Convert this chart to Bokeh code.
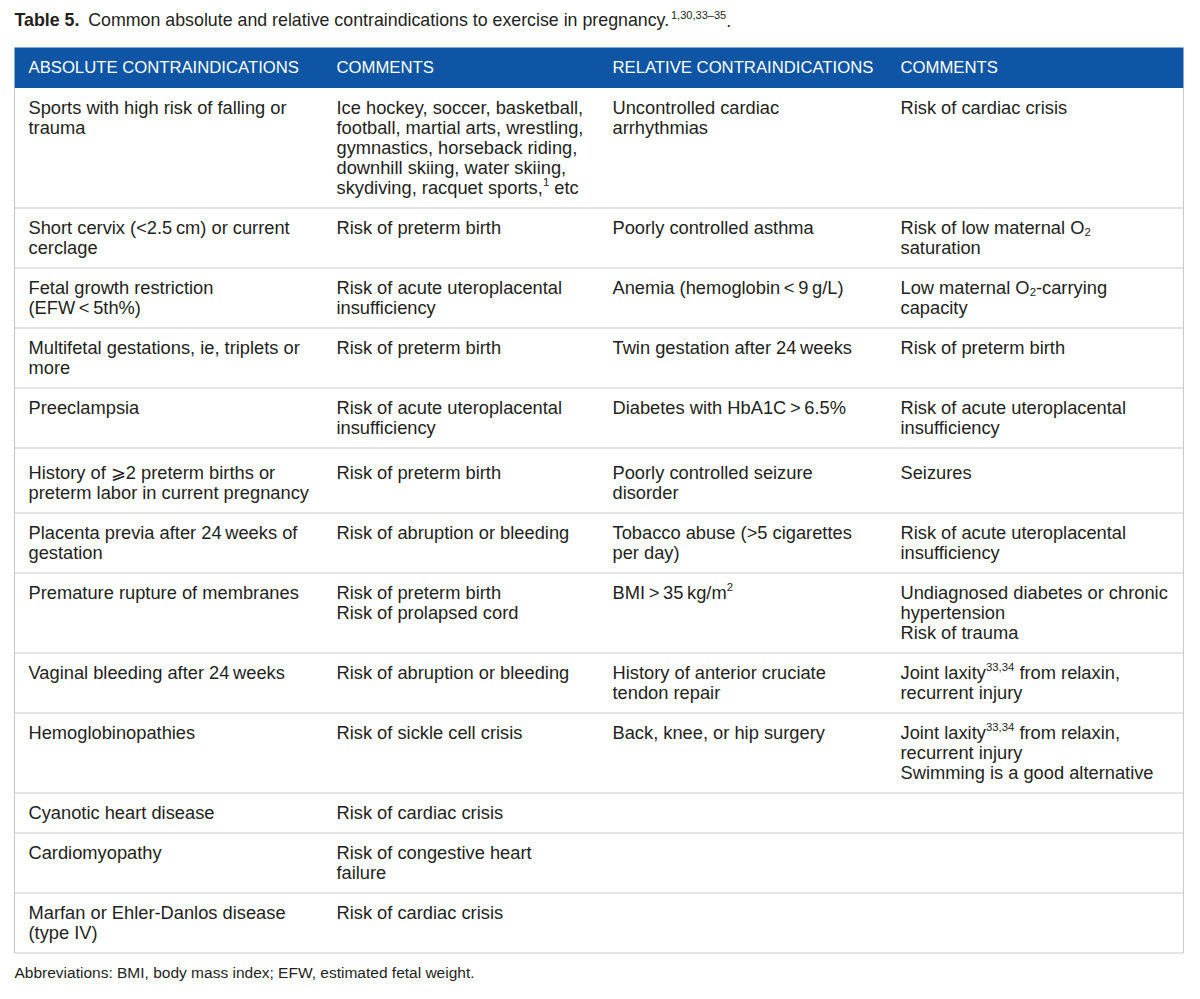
import re
from bokeh.plotting import figure
from bokeh.models import Range1d, ColumnDataSource
from bokeh.embed import file_html
from bokeh.resources import INLINE
from bokeh.core.properties import value

# ------------------------------------------------------------------ data
# "^...^" marks superscript, "_..._" marks subscript, "\n" a line break
title_label = "Table 5."
title_text = "Common absolute and relative contraindications to exercise in pregnancy.^1,30,33\u201335^."

headers = ["ABSOLUTE CONTRAINDICATIONS", "COMMENTS",
           "RELATIVE CONTRAINDICATIONS", "COMMENTS"]

absolute = [
    "Sports with high risk of falling or\ntrauma",
    "Short cervix (<2.5\u2009cm) or current\ncerclage",
    "Fetal growth restriction\n(EFW\u2009<\u20095th%)",
    "Multifetal gestations, ie, triplets or\nmore",
    "Preeclampsia",
    "History of \u2a7e2 preterm births or\npreterm labor in current pregnancy",
    "Placenta previa after 24\u2009weeks of\ngestation",
    "Premature rupture of membranes",
    "Vaginal bleeding after 24\u2009weeks",
    "Hemoglobinopathies",
    "Cyanotic heart disease",
    "Cardiomyopathy",
    "Marfan or Ehler-Danlos disease\n(type IV)",
]

absolute_comments = [
    "Ice hockey, soccer, basketball,\nfootball, martial arts, wrestling,\ngymnastics, horseback riding,\ndownhill skiing, water skiing,\nskydiving, racquet sports,^1^ etc",
    "Risk of preterm birth",
    "Risk of acute uteroplacental\ninsufficiency",
    "Risk of preterm birth",
    "Risk of acute uteroplacental\ninsufficiency",
    "Risk of preterm birth",
    "Risk of abruption or bleeding",
    "Risk of preterm birth\nRisk of prolapsed cord",
    "Risk of abruption or bleeding",
    "Risk of sickle cell crisis",
    "Risk of cardiac crisis",
    "Risk of congestive heart\nfailure",
    "Risk of cardiac crisis",
]

relative = [
    "Uncontrolled cardiac\narrhythmias",
    "Poorly controlled asthma",
    "Anemia (hemoglobin\u2009<\u20099\u2009g/L)",
    "Twin gestation after 24\u2009weeks",
    "Diabetes with HbA1C\u2009>\u20096.5%",
    "Poorly controlled seizure\ndisorder",
    "Tobacco abuse (>5 cigarettes\nper day)",
    "BMI\u2009>\u200935\u2009kg/m^2^",
    "History of anterior cruciate\ntendon repair",
    "Back, knee, or hip surgery",
    "",
    "",
    "",
]

relative_comments = [
    "Risk of cardiac crisis",
    "Risk of low maternal O_2_\nsaturation",
    "Low maternal O_2_-carrying\ncapacity",
    "Risk of preterm birth",
    "Risk of acute uteroplacental\ninsufficiency",
    "Seizures",
    "Risk of acute uteroplacental\ninsufficiency",
    "Undiagnosed diabetes or chronic\nhypertension\nRisk of trauma",
    "Joint laxity^33,34^ from relaxin,\nrecurrent injury",
    "Joint laxity^33,34^ from relaxin,\nrecurrent injury\nSwimming is a good alternative",
    "",
    "",
    "",
]

footnote = "Abbreviations: BMI, body mass index; EFW, estimated fetal weight."

columns = [absolute, absolute_comments, relative, relative_comments]

# ------------------------------------------------------------------ style
W, H = 1184, 983
FONT = "Liberation Sans"
TEXT = "#231f20"
BLUE = "#0e56a5"
RULE = "#cbcbcb"
FS_BODY, FS_HEAD, FS_TITLE, FS_NOTE = 18.3, 16.7, 17.8, 15.5
SCRIPT = 0.62
TY = -5.5          # baseline correction for rendered text

TABLE_L, TABLE_R = 14, 1183
HEAD_TOP, HEAD_BOT = 47, 87.5
COL_X = [28, 336, 612, 900]
LINE = 20

# Helvetica / Arial (= Liberation Sans) advance widths, 1/1000 em
_adv = {}
for ch, w in zip("ABCDEFGHIJKLMNOPQRSTUVWXYZ",
                 [667, 667, 722, 722, 667, 611, 778, 722, 278, 500, 667, 556, 833,
                  722, 778, 667, 778, 722, 667, 611, 722, 667, 944, 667, 667, 611]):
    _adv[ch] = w
for ch, w in zip("abcdefghijklmnopqrstuvwxyz",
                 [556, 556, 500, 556, 556, 278, 556, 556, 222, 222, 500, 222, 833,
                  556, 556, 556, 556, 333, 500, 278, 556, 500, 722, 500, 500, 500]):
    _adv[ch] = w
for ch in "0123456789":
    _adv[ch] = 556
_adv.update({" ": 278, ",": 278, ".": 278, ":": 278, ";": 278, "-": 333, "(": 333,
             ")": 333, "/": 278, "%": 889, "<": 584, ">": 584, "\u2009": 200,
             "\u2013": 556, "\u2265": 549})
_bold = {"T": 611, "a": 556, "b": 611, "l": 278, "e": 556, " ": 278, "5": 556, ".": 278}


def text_width(s, fs, table=_adv):
    return sum(table.get(c, 556) for c in s) * fs / 1000.0


rows = {"x": [], "y": [], "text": [], "size": [], "color": [], "style": []}


def put(x, y, s, fs, color=TEXT, style="normal"):
    rows["x"].append(x)
    rows["y"].append(y + TY)
    rows["text"].append(s)
    rows["size"].append("%.2fpx" % fs)
    rows["color"].append(color)
    rows["style"].append(style)


def put_rich(x, y, s, fs, color=TEXT):
    for part in re.split(r"(\^[^^]*\^|_[^_]*_)", s):
        if not part:
            continue
        if part.startswith("^"):
            seg, sfs, dy = part[1:-1], fs * SCRIPT, -0.30 * fs
        elif part.startswith("_"):
            seg, sfs, dy = part[1:-1], fs * SCRIPT, 0.26 * fs
        else:
            seg, sfs, dy = part, fs, 0.0
        lead = len(seg) - len(seg.lstrip(" "))
        x += text_width(" " * lead, sfs)
        seg = seg.lstrip(" ")
        put(x, y + dy, seg, sfs, color)
        x += text_width(seg, sfs)


# ------------------------------------------------------------------ figure
p = figure(width=W, height=H, x_range=Range1d(0, W), y_range=Range1d(H, 0),
           output_backend="svg", toolbar_location=None,
           x_axis_location=None, y_axis_location=None,
           min_border=0, background_fill_color="white", border_fill_color="white")
p.outline_line_color = None
p.grid.visible = False

# title
put(TABLE_L, 25, title_label, FS_TITLE, style="bold")
put_rich(TABLE_L + text_width(title_label, FS_TITLE, _bold) + 0.42 * FS_TITLE, 25,
         title_text, FS_TITLE)

# header band
p.quad(left=[TABLE_L], right=[TABLE_R], top=[HEAD_TOP], bottom=[HEAD_BOT],
       fill_color=BLUE, line_color=None)
for cx, h in zip(COL_X, headers):
    put(cx, 72.5, h, FS_HEAD, color="white")

# body rows
top = HEAD_BOT
hx0, hx1, hy = [], [], []
for i in range(len(absolute)):
    cells = [col[i] for col in columns]
    nlines = max(len(c.split("\n")) for c in cells)
    extra = 5 if any("\u2a7e" in c for c in cells) else 0
    for cx, c in zip(COL_X, cells):
        if not c:
            continue
        for k, line in enumerate(c.split("\n")):
            put_rich(cx, top + 25 + extra + k * LINE, line, FS_BODY)
    top += nlines * LINE + 20 + extra
    hx0.append(TABLE_L)
    hx1.append(TABLE_R)
    hy.append(top)

p.segment(x0=hx0, x1=hx1, y0=hy, y1=hy, line_color=RULE, line_width=1.2)
p.segment(x0=[TABLE_L, TABLE_R], x1=[TABLE_L, TABLE_R], y0=[HEAD_BOT, HEAD_BOT],
          y1=[top, top], line_color=RULE, line_width=1.2)

# footnote
put(TABLE_L, top + 24.5, footnote, FS_NOTE)

src = ColumnDataSource(rows)
p.text(x="x", y="y", text="text", source=src,
       text_font=value(FONT), text_font_size={"field": "size"},
       text_color={"field": "color"}, text_font_style={"field": "style"},
       text_baseline="alphabetic", text_align="left")

open("out.html", "w").write(file_html(p, INLINE))
